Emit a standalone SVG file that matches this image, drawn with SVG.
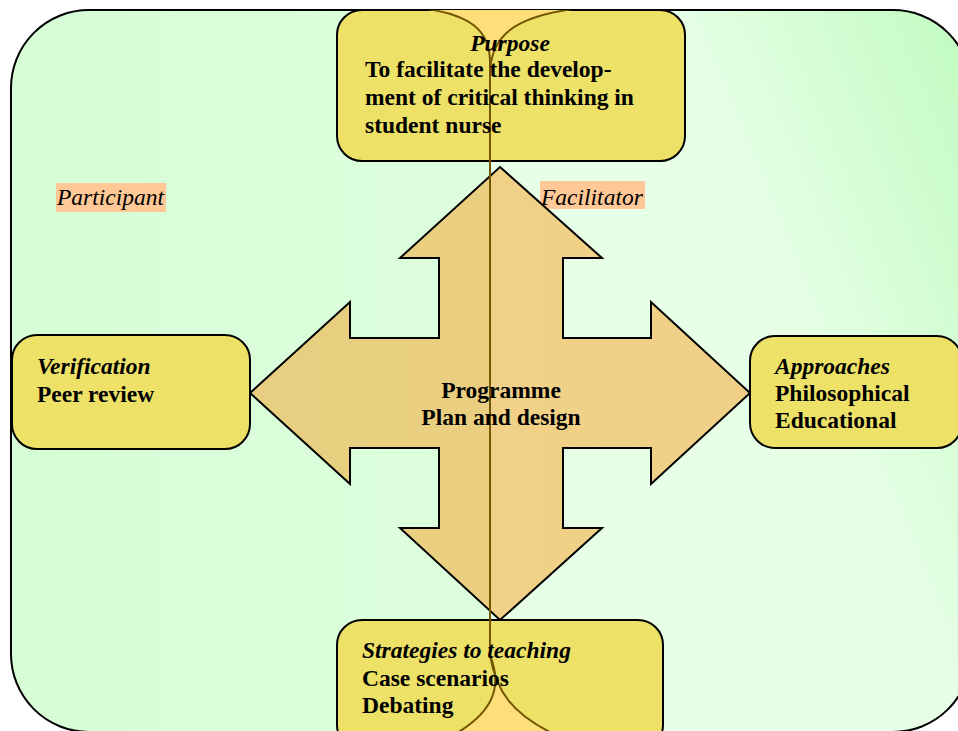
<svg xmlns="http://www.w3.org/2000/svg" width="958" height="731" viewBox="0 0 958 731">
<defs>
  <clipPath id="outer">
    <rect x="11" y="10" width="960" height="722" rx="78" ry="78"/>
  </clipPath>
  <linearGradient id="gLeft" gradientUnits="userSpaceOnUse" x1="11" y1="0" x2="490" y2="0">
    <stop offset="0" stop-color="#d6fdd6"/>
    <stop offset="1" stop-color="#ddfedd"/>
  </linearGradient>
  <linearGradient id="gRight" gradientUnits="userSpaceOnUse" x1="690" y1="60" x2="926" y2="-38">
    <stop offset="0" stop-color="#e6ffe6"/>
    <stop offset="1" stop-color="#c3fbc3"/>
  </linearGradient>
  <linearGradient id="gArrow" gradientUnits="userSpaceOnUse" x1="250" y1="0" x2="750" y2="0">
    <stop offset="0" stop-color="#e8ce80"/>
    <stop offset="0.48" stop-color="#eacf81"/>
    <stop offset="0.48" stop-color="#f0d187"/>
    <stop offset="1" stop-color="#efd086"/>
  </linearGradient>
  <style>
    .box { fill: #ede267; stroke: #000; stroke-width: 2; }
    .arrow { fill: url(#gArrow); stroke: #000; stroke-width: 2; stroke-linejoin: miter; }
    .lens { fill: #fddf79; }
    .vline { fill: none; stroke: #745500; stroke-width: 2; }
    .t { font-family: "Liberation Serif", "Times New Roman", serif; font-size: 23.5px; fill: #000; }
    .b { font-weight: bold; }
    .i { font-style: italic; }
    .tag { fill: #ffc896; }
  </style>
</defs>

<g id="background">
  <g clip-path="url(#outer)">
    <rect x="0" y="0" width="980" height="740" fill="#fddf79"/>
    <path d="M 0 0 L 420 0 L 420 8 C 470 14, 490 30, 490 62 L 490 655 C 502 685, 496 712, 450 737 L 450 745 L 0 745 Z" fill="url(#gLeft)"/>
    <path d="M 980 0 L 580 0 L 580 8 C 515 16, 490 35, 490 75 L 490 655 C 496 690, 510 714, 560 737 L 560 745 L 980 745 Z" fill="url(#gRight)"/>
  </g>
  <rect x="11" y="10" width="960" height="722" rx="78" ry="78" fill="none" stroke="#000" stroke-width="2"/>
</g>

<g id="participant">
  <rect class="tag" x="56" y="183" width="110" height="29"/>
  <text class="t i" x="57" y="205">Participant</text>
</g>
<g id="facilitator">
  <rect class="tag" x="540" y="181" width="105" height="28"/>
  <text class="t i" x="541" y="205">Facilitator</text>
</g>

<g id="connectors">
  <polygon class="arrow" points="500,167 602,258 563,258 563,338 651,338 651,302 750,393 651,484 651,448 563,448 563,528 602,528 500,620 400,528 439,528 439,448 350,448 350,484 250,393 350,302 350,338 439,338 439,258 400,258"/>
</g>

<g id="purpose">
  <rect class="box" x="337" y="10" width="348" height="151" rx="25" ry="25"/>
</g>
<g id="verification">
  <rect class="box" x="12" y="335" width="238" height="114" rx="25" ry="25"/>
</g>
<g id="approaches">
  <rect class="box" x="750" y="336" width="212" height="112" rx="25" ry="25"/>
</g>
<g id="strategies">
  <rect class="box" x="337" y="620" width="326" height="130" rx="25" ry="25"/>
</g>

<g id="venn" clip-path="url(#outer)">
  <path class="lens" d="M 420 8 C 470 14, 490 30, 490 62 L 490 75 C 490 35, 515 16, 580 8 Z"/>
  <path class="lens" d="M 490 655 C 502 685, 496 712, 450 737 L 560 737 C 510 714, 496 690, 490 655 Z"/>
  <path class="vline" d="M 420 8 C 470 14, 490 30, 490 62 L 490 655 C 502 685, 496 712, 450 737"/>
  <path class="vline" d="M 580 8 C 515 16, 490 35, 490 75 L 490 655 C 496 690, 510 714, 560 737"/>
</g>

<g id="labels">
  <text class="t b i" x="510" y="51" text-anchor="middle">Purpose</text>
  <text class="t b" x="365" y="77">To facilitate the develop-</text>
  <text class="t b" x="365" y="105">ment of critical thinking in</text>
  <text class="t b" x="365" y="133">student nurse</text>

  <text class="t b i" x="37" y="374">Verification</text>
  <text class="t b" x="37" y="402">Peer review</text>

  <text class="t b i" x="775" y="374">Approaches</text>
  <text class="t b" x="775" y="401">Philosophical</text>
  <text class="t b" x="775" y="428">Educational</text>

  <text class="t b i" x="362" y="658">Strategies to teaching</text>
  <text class="t b" x="362" y="686">Case scenarios</text>
  <text class="t b" x="362" y="713">Debating</text>

  <text class="t b" x="501" y="398" text-anchor="middle">Programme</text>
  <text class="t b" x="501" y="425" text-anchor="middle">Plan and design</text>
</g>
</svg>
